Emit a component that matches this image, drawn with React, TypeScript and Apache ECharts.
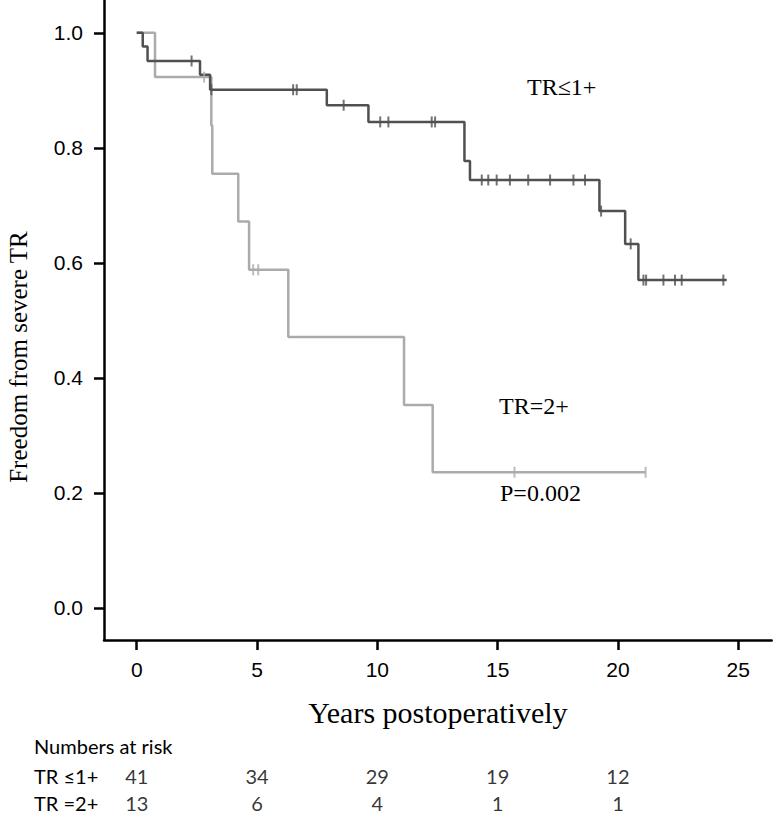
import React, { useEffect, useRef } from "react";
import * as echarts from "echarts";

// TR ≤1+ (dark curve)
const darkTimes = [0, 0.25, 0.45, 2.63, 3.05, 7.9, 9.63, 13.62, 13.85, 19.23, 20.3, 20.85, 24.52];
const darkSurv = [1, 0.976, 0.951, 0.927, 0.901, 0.874, 0.845, 0.777, 0.744, 0.69, 0.633, 0.57, 0.57];
const darkCensorT = [2.28, 3.1, 6.5, 6.65, 8.6, 10.12, 10.46, 12.26, 12.4, 14.34, 14.61, 14.96, 15.51, 16.27, 17.18, 18.15, 18.63, 19.3, 20.53, 21.06, 21.17, 21.89, 22.37, 22.65, 24.38];
const darkCensorS = [0.951, 0.901, 0.901, 0.901, 0.874, 0.845, 0.845, 0.845, 0.845, 0.744, 0.744, 0.744, 0.744, 0.744, 0.744, 0.744, 0.744, 0.69, 0.633, 0.57, 0.57, 0.57, 0.57, 0.57, 0.57];

// TR =2+ (light curve)
const lightTimes = [0, 0.76, 3.1, 3.14, 4.22, 4.67, 6.3, 11.11, 12.3, 21.15];
const lightSurv = [1, 0.923, 0.839, 0.755, 0.672, 0.588, 0.471, 0.353, 0.236, 0.236];
const lightCensorT = [2.8, 4.84, 5.05, 15.7, 21.15];
const lightCensorS = [0.923, 0.588, 0.588, 0.236, 0.236];

// axes
const xTicks = [0, 5, 10, 15, 20, 25];
const yTicks = [0, 0.2, 0.4, 0.6, 0.8, 1.0];

// numbers at risk
const atRiskTimes = [0, 5, 10, 15, 20];
const atRiskLow = [41, 34, 29, 19, 12];
const atRiskHigh = [13, 6, 4, 1, 1];
const rowLabels = ["TR \u22641+", "TR =2+"];

const X_MIN = -1.36;
const X_MAX = 26.39;
const Y_MIN = -0.0557;
const Y_MAX = 1.057;

const DARK = "#505050";
const LIGHT = "#ababab";
const SERIF = "'Liberation Serif', 'DejaVu Serif', serif";
const SANS = "'Liberation Sans', Arial, sans-serif";
const TABLE = "Lato, 'Noto Sans', sans-serif";

export default function App() {
  const ref = useRef<HTMLDivElement>(null);
  useEffect(() => {
    if (!ref.current) return;
    const chart = echarts.init(ref.current, null, { renderer: "svg" });
    const option: any = {
      animation: false,
      backgroundColor: "#ffffff",
      grid: [
        { left: 104, right: 1.3, top: 0, bottom: 174, containLabel: false },
        { left: 104, right: 1.3, top: 776, height: 27, containLabel: false },
      ],
      xAxis: [
        {
          type: "value",
          gridIndex: 0,
          min: X_MIN,
          max: X_MAX,
          axisLine: { show: true, onZero: false, lineStyle: { color: "#000", width: 2.5 } },
          axisTick: { show: true, length: 10, lineStyle: { color: "#000", width: 2.5 }, customValues: xTicks },
          axisLabel: {
            show: true,
            customValues: xTicks,
            margin: 19,
            fontSize: 21,
            color: "#000",
            fontFamily: SANS,
            formatter: (v: number) => String(v),
          },
          splitLine: { show: false },
          name: "Years postoperatively",
          nameLocation: "middle",
          nameGap: 57,
          nameTextStyle: { fontFamily: SERIF, fontSize: 30, color: "#000", verticalAlign: "top" },
        },
        {
          type: "value",
          gridIndex: 1,
          min: X_MIN,
          max: X_MAX,
          show: false,
        },
      ],
      yAxis: [
        {
          type: "value",
          gridIndex: 0,
          min: Y_MIN,
          max: Y_MAX,
          axisLine: { show: true, onZero: false, lineStyle: { color: "#000", width: 2.5 } },
          axisTick: { show: true, length: 10, lineStyle: { color: "#000", width: 2.5 }, customValues: yTicks },
          axisLabel: {
            show: true,
            customValues: yTicks,
            margin: 21,
            fontSize: 21,
            color: "#000",
            fontFamily: SANS,
            formatter: (v: number) => v.toFixed(1),
          },
          splitLine: { show: false },
        },
        {
          type: "value",
          gridIndex: 1,
          min: 0,
          max: 1,
          show: false,
        },
      ],
      series: [
        {
          type: "line",
          step: "end",
          xAxisIndex: 0,
          yAxisIndex: 0,
          data: lightTimes.map((t, i) => [t, lightSurv[i]]),
          showSymbol: false,
          symbol: "none",
          lineStyle: { color: LIGHT, width: 2.5 },
          z: 2,
        },
        {
          type: "line",
          step: "end",
          xAxisIndex: 0,
          yAxisIndex: 0,
          data: darkTimes.map((t, i) => [t, darkSurv[i]]),
          showSymbol: false,
          symbol: "none",
          lineStyle: { color: DARK, width: 2.5 },
          z: 3,
        },
        {
          type: "scatter",
          xAxisIndex: 0,
          yAxisIndex: 0,
          data: lightCensorT.map((t, i) => [t, lightCensorS[i]]),
          symbol: "rect",
          symbolSize: [2, 11],
          itemStyle: { color: LIGHT },
          z: 4,
        },
        {
          type: "scatter",
          xAxisIndex: 0,
          yAxisIndex: 0,
          data: darkCensorT.map((t, i) => [t, darkCensorS[i]]),
          symbol: "rect",
          symbolSize: [2, 11],
          itemStyle: { color: DARK },
          z: 5,
        },
        {
          type: "scatter",
          xAxisIndex: 1,
          yAxisIndex: 1,
          data: [
            ...atRiskTimes.map((t, i) => [t, 1, atRiskLow[i]]),
            ...atRiskTimes.map((t, i) => [t, 0, atRiskHigh[i]]),
          ],
          symbolSize: 0,
          itemStyle: { color: "transparent" },
          label: {
            show: true,
            position: "inside",
            formatter: (p: any) => String(p.value[2]),
            fontFamily: TABLE,
            fontSize: 20,
            color: "#000",
          },
        },
      ],
      graphic: [
        {
          type: "text",
          x: 18,
          y: 357,
          rotation: Math.PI / 2,
          style: {
            text: "Freedom from severe TR",
            font: `25px ${SERIF}`,
            fill: "#000",
            align: "center",
            verticalAlign: "middle",
          },
        },
        {
          type: "text",
          x: 527,
          y: 87,
          style: { text: "TR\u22641+", font: `24px ${SERIF}`, fill: "#000", verticalAlign: "middle" },
        },
        {
          type: "text",
          x: 499,
          y: 406,
          style: { text: "TR=2+", font: `24px ${SERIF}`, fill: "#000", verticalAlign: "middle" },
        },
        {
          type: "text",
          x: 500,
          y: 493,
          style: { text: "P=0.002", font: `24px ${SERIF}`, fill: "#000", verticalAlign: "middle" },
        },
        {
          type: "text",
          x: 34,
          y: 746,
          style: { text: "Numbers at risk", font: `20px ${TABLE}`, fill: "#000", verticalAlign: "middle" },
        },
        {
          type: "text",
          x: 34,
          y: 776,
          style: { text: rowLabels[0], font: `20px ${TABLE}`, fill: "#000", verticalAlign: "middle" },
        },
        {
          type: "text",
          x: 34,
          y: 803,
          style: { text: rowLabels[1], font: `20px ${TABLE}`, fill: "#000", verticalAlign: "middle" },
        },
      ],
    };
    chart.setOption(option);
    return () => chart.dispose();
  }, []);
  return (
    <div
      ref={ref}
      style={{ position: "fixed", left: 0, top: 0, width: 773, height: 814, overflow: "hidden", background: "#fff" }}
    />
  );
}
